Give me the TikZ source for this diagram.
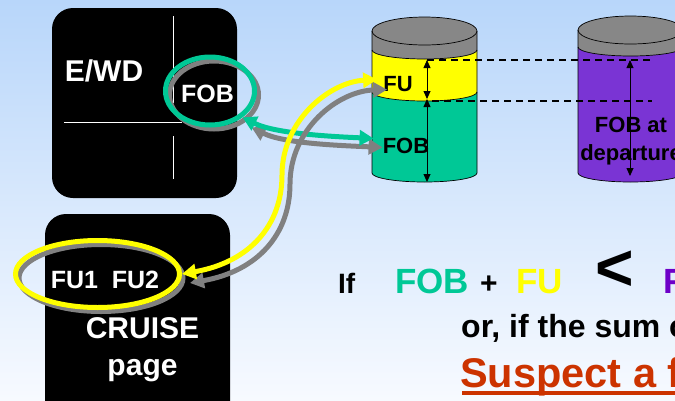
\documentclass[tikz,border=0pt]{standalone}
\usepackage{fontspec}
\setmainfont{Liberation Sans}
\usetikzlibrary{shapes.geometric, arrows.meta, positioning, calc}

\definecolor{fobGreen}{RGB}{0,200,150}
\definecolor{fuYellow}{RGB}{255,255,0}
\definecolor{depPurple}{RGB}{122,52,212}
\definecolor{eqPurple}{RGB}{110,0,200}
\definecolor{capGray}{RGB}{135,135,135}
\definecolor{shadowGray}{RGB}{128,128,128}
\definecolor{warnRed}{RGB}{204,51,0}
\definecolor{bgTop}{RGB}{184,214,250}
\definecolor{bgBottom}{RGB}{247,250,255}

\begin{document}
\begin{tikzpicture}[
		x=1pt, y=-1pt,
		font=\bfseries,
		screenBox/.style={rectangle, fill=black, rounded corners=21pt},
		whiteText/.style={text=white, inner sep=0pt, anchor=base},
		tankText/.style={text=black, inner sep=0pt, anchor=base, font=\bfseries\fontsize{22}{28}\selectfont},
		eqText/.style={inner sep=0pt, anchor=base west},
		ring/.style={ellipse, line width=5pt},
		fuelArrow/.style={line width=5pt, {Triangle[length=14pt,width=15pt]}-{Triangle[length=14pt,width=15pt]}},
		levelArrow/.style={line width=0.8pt, {Triangle[length=8pt,width=7pt]}-{Triangle[length=8pt,width=7pt]}},
		levelLine/.style={line width=1.3pt, dash pattern=on 7pt off 5pt},
		tankEdge/.style={draw=black, line width=0.7pt}
		]

		\useasboundingbox (0,0) rectangle (675,400);
		\clip (0,0) rectangle (675,400);
		\shade[top color=bgTop, bottom color=bgBottom] (0,0) rectangle (675,400);

		% Pantallas
		\node[screenBox, minimum width=185pt, minimum height=190pt] (ewd) at (144.5,103) {};
		\node[screenBox, minimum width=185pt, minimum height=210pt] (cruise) at (137.5,319) {};
		\draw[white, line width=1pt] (173,16) -- (173,103);
		\draw[white, line width=1pt] (64,122) -- (182,122);
		\draw[white, line width=1pt] (173,136) -- (173,179);

		\node[whiteText, font=\bfseries\fontsize{30}{36}\selectfont] (ewdLabel) at (104,81) {E/WD};
		\node[whiteText, font=\bfseries\fontsize{30}{36}\selectfont] (cruiseLabel) at (142.5,338) {CRUISE};
		\node[whiteText, font=\bfseries\fontsize{30}{36}\selectfont] (pageLabel) at (142.5,375) {page};

		% Anillos
		\draw[shadowGray, line width=5pt] (214,95) ellipse[x radius=44.5, y radius=34];
		\node[ring, draw=fobGreen, minimum width=89pt, minimum height=68pt] (fobRing) at (210,91) {};
		\node[whiteText, font=\bfseries\fontsize{25}{30}\selectfont] (fobLabel) at (207.5,102) {FOB};

		\draw[shadowGray, line width=5pt] (101,278) ellipse[x radius=82, y radius=33.5];
		\node[ring, draw=fuYellow, minimum width=164pt, minimum height=67pt] (fuRing) at (97.5,274) {};
		\node[whiteText, font=\bfseries\fontsize{25}{30}\selectfont] (fuLabel) at (105,288) {FU1\hspace{0.55em}FU2};

		% Tanque FOB + FU
		\fill[fobGreen] (372,92) -- (372,173) arc[start angle=180, end angle=0, x radius=52.5, y radius=9]
			-- (477,92) arc[start angle=0, end angle=180, x radius=52.5, y radius=9] -- cycle;
		\fill[fuYellow] (372,50) -- (372,92) arc[start angle=180, end angle=0, x radius=52.5, y radius=9]
			-- (477,50) arc[start angle=0, end angle=180, x radius=52.5, y radius=9] -- cycle;
		\fill[capGray] (372,31) -- (372,50) arc[start angle=180, end angle=0, x radius=52.5, y radius=9]
			-- (477,31) -- cycle;
		\fill[capGray] (424.5,31) ellipse[x radius=52.5, y radius=14];
		\draw[tankEdge] (372,31) -- (372,173) arc[start angle=180, end angle=0, x radius=52.5, y radius=9] -- (477,31);
		\draw[tankEdge] (424.5,31) ellipse[x radius=52.5, y radius=14];
		\draw[tankEdge] (372,50) arc[start angle=180, end angle=0, x radius=52.5, y radius=9];
		\draw[tankEdge] (372,92) arc[start angle=180, end angle=0, x radius=52.5, y radius=9];

		% Tanque salida
		\fill[depPurple] (578,47) -- (578,173) arc[start angle=180, end angle=0, x radius=52.5, y radius=9]
			-- (683,47) arc[start angle=0, end angle=180, x radius=52.5, y radius=9] -- cycle;
		\fill[capGray] (578,30) -- (578,47) arc[start angle=180, end angle=0, x radius=52.5, y radius=9]
			-- (683,30) -- cycle;
		\fill[capGray] (630.5,30) ellipse[x radius=52.5, y radius=14];
		\draw[tankEdge] (578,30) -- (578,173) arc[start angle=180, end angle=0, x radius=52.5, y radius=9] -- (683,30);
		\draw[tankEdge] (630.5,30) ellipse[x radius=52.5, y radius=14];
		\draw[tankEdge] (578,47) arc[start angle=180, end angle=0, x radius=52.5, y radius=9];

		% Niveles
		\coordinate (fuTop) at (427,60);
		\coordinate (fuBot) at (427,99);
		\coordinate (fobBot) at (427,182);
		\coordinate (depTop) at (630,60);
		\coordinate (depBot) at (630,176);
		\coordinate (levelA) at (650,60);
		\coordinate (levelB) at (432,101);
		\coordinate (levelC) at (652,101);
		\draw[levelLine] (fuTop) -- (levelA);
		\draw[levelLine] (levelB) -- (levelC);
		\draw[levelArrow] (fuTop) -- (fuBot);
		\draw[levelArrow] (fuBot) -- (fobBot);
		\draw[levelArrow] (depTop) -- (depBot);

		\node[tankText] (cylFu) at (398,91) {FU};
		\node[tankText] (cylFob) at (406,153) {FOB};
		\node[tankText, align=center] (cylDep) at (631,160) {FOB at\\departure};

		% Flechas
		\draw[fuelArrow, draw=shadowGray] ($(fobRing.-39)+(9,10)$) .. controls +(32,16) and +(-45,-2) .. ($(cylFob.west)+(0,2)$);
		\draw[fuelArrow, draw=fobGreen] (fobRing.-39) .. controls +(32,16) and +(-45,-2) .. ($(cylFob.west)+(-9,-7)$);
		\draw[fuelArrow, draw=shadowGray] ($(fuRing.east)+(8,9)$) .. controls (258,271) and (290,234) .. (290,184)
			.. controls (290,129) and (338,91) .. ($(cylFu.west)+(4,6)$);
		\draw[fuelArrow, draw=fuYellow] (fuRing.east) .. controls (250,262) and (282,225) .. (282,175)
			.. controls (282,120) and (330,82) .. ($(cylFu.west)+(-6,-4)$);

		% Condicion
		\node[eqText, font=\bfseries\fontsize{28}{32}\selectfont] (ifText) at (338,293) {If};
		\node[eqText, text=fobGreen, font=\bfseries\fontsize{35}{40}\selectfont] (eqFob) at (395,293) {FOB};
		\node[eqText, font=\bfseries\fontsize{30}{34}\selectfont] (eqPlus) at (480,293) {+};
		\node[eqText, text=fuYellow, font=\bfseries\fontsize{35}{40}\selectfont] (eqFu) at (516,293) {FU};
		\node[eqText, font=\bfseries\fontsize{66}{72}\selectfont] (eqLess) at (595,290) {<};
		\node[eqText, text=eqPurple, font=\bfseries\fontsize{35}{40}\selectfont] (eqDep) at (663,293) {F};
		\node[eqText, font=\bfseries\fontsize{32}{36}\selectfont] (orText) at (461,337) {or, if the sum o};
		\node[eqText, text=warnRed, font=\bfseries\fontsize{41.5}{48}\selectfont] (suspect) at (460,387) {Suspect a f};
		\draw[warnRed, line width=4pt] ($(suspect.base west)+(2,6)$) -- ($(suspect.base east)+(20,6)$);

	\end{tikzpicture}
\end{document}
